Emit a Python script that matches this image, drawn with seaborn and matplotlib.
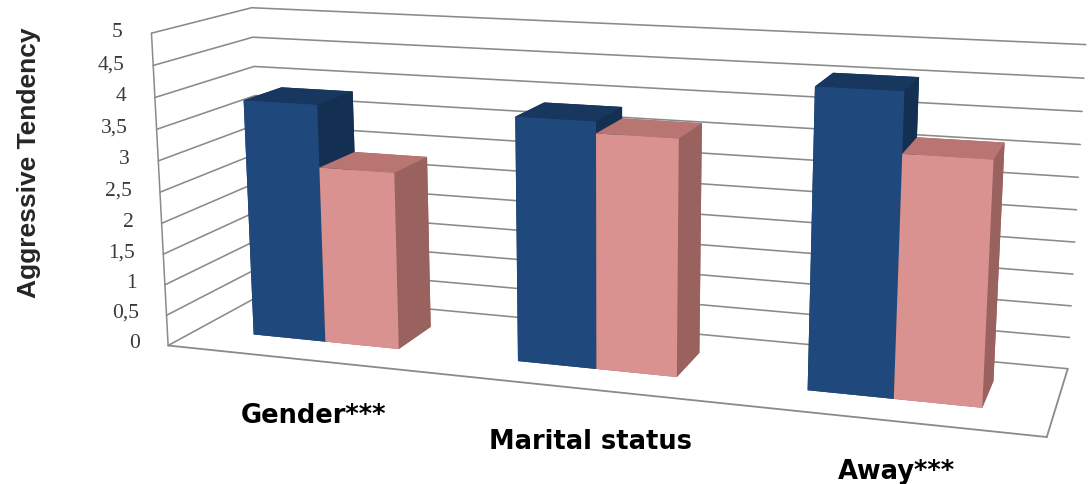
import matplotlib
matplotlib.use("Agg")
import matplotlib.pyplot as plt
import seaborn as sns
from mpl_toolkits.mplot3d import proj3d

# ---- data -------------------------------------------------------------
categories = ["Gender***", "Marital status", "Away***"]
series_blue = [3.85, 3.85, 4.55]
series_pink = [2.85, 3.67, 3.65]
z_ticks = [0, 0.5, 1, 1.5, 2, 2.5, 3, 3.5, 4, 4.5, 5]
z_tick_labels = ["0", "0,5", "1", "1,5", "2", "2,5", "3", "3,5", "4", "4,5", "5"]
y_title = "Aggressive Tendency"

# ---- style ------------------------------------------------------------
sns.set_theme(style="white")
plt.rcParams["font.family"] = ["DejaVu Sans"]

# face colours: front, top, side
blue_front, blue_top, blue_side = sns.color_palette(["#1F497D", "#17375E", "#132F52"])
pink_front, pink_top, pink_side = sns.color_palette(["#D9928F", "#B87572", "#9A625F"])
grid_color = "#8a8a8a"

bar_w = 0.28
depth0, depth1 = 0.30, 0.70          # bar depth inside the floor (0..1)
label_drop = [-0.9, -0.8, -0.74]     # how far below the floor each category label sits

fig = plt.figure(figsize=(10.89, 4.85), dpi=100)
ax = fig.add_axes([0.046, -0.569, 1.0, 2.245], projection="3d")
ax.set_proj_type("persp", focal_length=0.33)
ax.view_init(elev=13, azim=-72)
ax.set_box_aspect((900, 210, 328), zoom=0.87)
ax.computed_zorder = False
ax.set_xticks([])
ax.set_yticks([])
ax.set_zticks([])
ax.set_axis_off()

n = len(categories)
ax.set_xlim(0, n)
ax.set_ylim(0, 1)
ax.set_zlim(0, z_ticks[-1])

# walls: horizontal gridlines running along the left wall and the back wall
for t in z_ticks:
    ax.plot([0, 0, n], [0, 1, 1], [t, t, t], color=grid_color, lw=1.15, zorder=1)
# left wall front edge, floor front and right edges
ax.plot([0, 0], [0, 0], [0, z_ticks[-1]], color=grid_color, lw=1.1, zorder=1)
ax.plot([0, n], [0, 0], [0, 0], color=grid_color, lw=1.3, zorder=1)
ax.plot([n, n], [0, 1], [0, 0], color=grid_color, lw=1.3, zorder=1)

# bars (faces ordered -z, +z, -y, +y, -x, +x)
xs, ys, zs, dx, dy, dz, colors = [], [], [], [], [], [], []
for i in range(n):
    c = i + 0.5
    for x0, v, (fc, tc, sc) in ((c - bar_w, series_blue[i], (blue_front, blue_top, blue_side)),
                                (c, series_pink[i], (pink_front, pink_top, pink_side))):
        xs.append(x0); ys.append(depth0); zs.append(0)
        dx.append(bar_w); dy.append(depth1 - depth0); dz.append(v)
        colors += [sc, tc, fc, sc, sc, sc]
ax.bar3d(xs, ys, zs, dx, dy, dz, color=colors, shade=False, zsort="average",
         edgecolor="none", linewidth=0, zorder=3)

# project 3D anchor points to the axes' 2D plane so labels are plain 2D text
proj = ax.get_proj()


def to_2d(x, y, z):
    xp, yp, _ = proj3d.proj_transform(x, y, z, proj)
    return xp, yp


# value axis labels along the left wall front edge
for t, lab in zip(z_ticks, z_tick_labels):
    px, py = to_2d(-0.11, 0, t)
    ax.text2D(px, py, lab, transform=ax.transData, ha="right", va="center",
              fontsize=15.5, family="Liberation Serif", color="#3a3a3a", zorder=5)

# category labels below the floor front edge
for i, cat in enumerate(categories):
    px, py = to_2d(i + 0.55, 0, label_drop[i])
    ax.text2D(px, py, cat, transform=ax.transData, ha="center", va="center",
              fontsize=18.5, fontweight="bold", color="black", zorder=5)

fig.text(0.027, 0.665, y_title, rotation=90, ha="center", va="center",
         fontsize=19, fontweight="bold", family="Liberation Sans")

fig.savefig("out.png", dpi=100)
